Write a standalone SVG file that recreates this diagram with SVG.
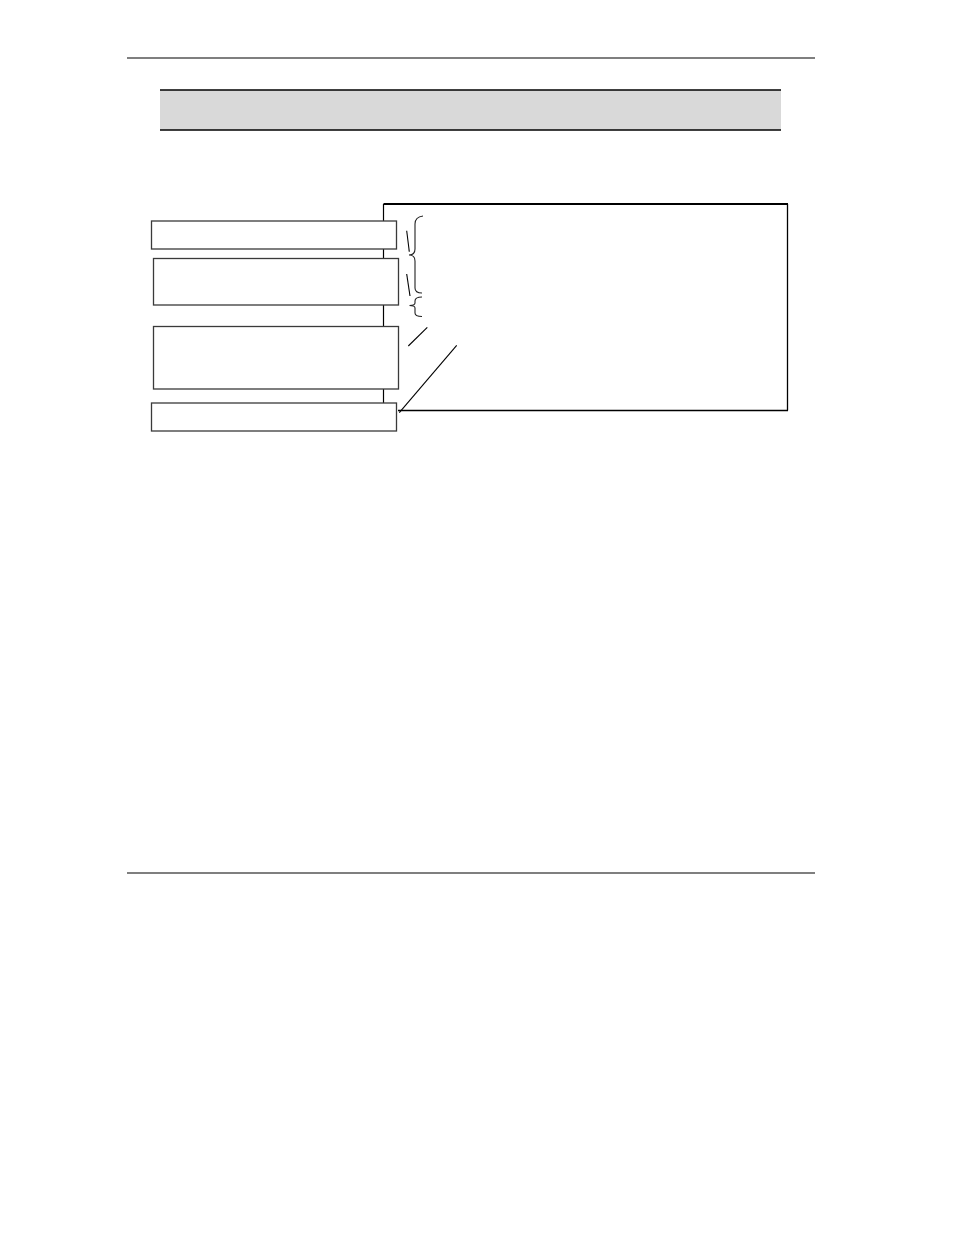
<svg xmlns="http://www.w3.org/2000/svg" width="954" height="1235" viewBox="0 0 954 1235">
<style>
.rule{stroke:#000;stroke-width:1.2;fill:none}
.box{fill:#fff;stroke:#3a3a3a;stroke-width:1.3}
.ln{stroke:#000;stroke-width:1.1;fill:none}
.br{stroke:#222;stroke-width:1.1;fill:none}
</style>
<rect width="954" height="1235" fill="#fff"/>
<g id="page-rules">
<line class="rule" x1="127" y1="58" x2="815" y2="58"/>
<line class="rule" x1="127" y1="873" x2="815" y2="873"/>
</g>
<g id="title-bar">
<rect x="160" y="90" width="621" height="40" fill="#d9d9d9"/>
<line x1="160" y1="90" x2="781" y2="90" stroke="#000" stroke-width="1.6"/>
<line x1="160" y1="130" x2="781" y2="130" stroke="#000" stroke-width="1.6"/>
</g>
<g id="main-panel">
<line x1="383.5" y1="204" x2="788" y2="204" stroke="#000" stroke-width="2"/>
<line x1="787.5" y1="204" x2="787.5" y2="410.5" stroke="#000" stroke-width="1.3"/>
<line x1="398" y1="410.5" x2="788" y2="410.5" stroke="#000" stroke-width="1.3"/>
<line x1="383.5" y1="204" x2="383.5" y2="403" stroke="#000" stroke-width="1.2"/>
</g>
<g id="box1"><rect class="box" x="151.5" y="221" width="245" height="28"/></g>
<g id="box2"><rect class="box" x="153.5" y="258.5" width="245" height="46.5"/></g>
<g id="box3"><rect class="box" x="153.5" y="326.5" width="245" height="62.5"/></g>
<g id="box4"><rect class="box" x="151.5" y="403" width="245" height="28"/></g>
<g id="connectors">
<path class="br" d="M423,216 Q415,217 415,224 L415,249 Q415,255 409,255 Q415,255 415,261 L415,288 Q415,293 422,293"/>
<path class="br" d="M422,297 Q415,297 415,301 L415,303 Q415,305.5 409.5,305.5 Q415,305.5 415,308 L415,313 Q415,316.5 422,316.5"/>
<line class="ln" x1="406.7" y1="230.7" x2="409.3" y2="251.7"/>
<line class="ln" x1="406.7" y1="274" x2="410" y2="296"/>
<line class="ln" x1="427.3" y1="327.3" x2="408.3" y2="346"/>
<line class="ln" x1="456.7" y1="345.3" x2="399.3" y2="412.7"/>
</g>
</svg>
